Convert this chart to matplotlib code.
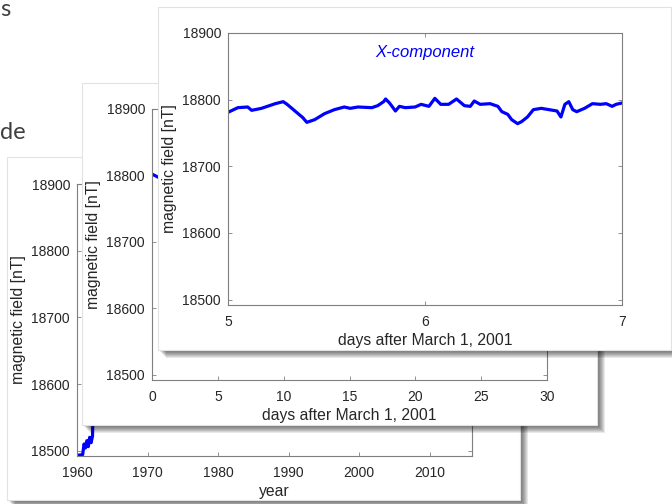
import matplotlib
matplotlib.use("Agg")
import matplotlib.pyplot as plt
from matplotlib.patches import Rectangle

plt.rcParams['font.family'] = ['Liberation Sans', 'DejaVu Sans']

W, H = 672, 504

# panel 1: yearly data (mostly hidden behind the other cards)
years = [1960.0, 1960.8, 1961.0, 1961.2, 1961.4, 1961.6, 1961.8, 1962.0, 1962.2, 1962.35,
         1965, 1970, 1975, 1980, 1985, 1990, 1995, 2000, 2005, 2010, 2015]
field_years = [18493, 18494, 18510, 18504, 18515, 18506, 18520, 18512, 18522, 18600,
               18610, 18650, 18700, 18740, 18760, 18775, 18785, 18795, 18810, 18825, 18840]

# panel 2: March 2001, days 0-30 (hidden except the first day)
days_month = list(range(31))
field_month = [18802, 18792, 18795, 18790, 18786, 18788, 18792, 18790, 18785, 18789,
               18793, 18780, 18787, 18791, 18794, 18790, 18786, 18789, 18792, 18788,
               18790, 18795, 18791, 18787, 18784, 18789, 18793, 18790, 18792, 18794, 18791]

# panel 3: days 5-7, X-component
days_zoom = [5.00, 5.05, 5.10, 5.12, 5.17, 5.24, 5.28, 5.30, 5.34, 5.38, 5.40, 5.44, 5.49,
             5.54, 5.59, 5.62, 5.66, 5.73, 5.76, 5.79, 5.80, 5.82, 5.84, 5.85, 5.87, 5.90,
             5.95, 5.98, 6.02, 6.05, 6.08, 6.12, 6.16, 6.20, 6.23, 6.25, 6.28, 6.33, 6.37,
             6.39, 6.42, 6.44, 6.47, 6.49, 6.52, 6.55, 6.59, 6.63, 6.67, 6.69, 6.71, 6.73,
             6.75, 6.77, 6.81, 6.85, 6.89, 6.92, 6.95, 6.97, 7.00]
field_zoom = [18781, 18788, 18789, 18784, 18787, 18794, 18797, 18793, 18783, 18773, 18766,
              18770, 18779, 18785, 18789, 18787, 18789, 18788, 18791, 18797, 18801, 18795,
              18787, 18783, 18790, 18788, 18789, 18793, 18790, 18802, 18793, 18793, 18801,
              18791, 18790, 18798, 18793, 18794, 18790, 18782, 18778, 18770, 18764, 18767,
              18774, 18785, 18787, 18785, 18783, 18774, 18793, 18797, 18785, 18782, 18787,
              18794, 18793, 18794, 18790, 18793, 18795]

yticks = [18500, 18600, 18700, 18800, 18900]
xticks_years = [1960, 1970, 1980, 1990, 2000, 2010]
xticks_month = [0, 5, 10, 15, 20, 25, 30]
xticks_zoom = [5, 6, 7]

fig = plt.figure(figsize=(W / 100, H / 100), dpi=100)


def box(x0, y0, x1, y1):
    return [x0 / W, 1 - y1 / H, (x1 - x0) / W, (y1 - y0) / H]


def card(x0, y0, x1, y1, z):
    # soft shadow down and to the right
    for k in range(1, 9):
        fig.add_artist(Rectangle(((x0 + k) / W, 1 - (y1 + k) / H), (x1 - x0) / W, (y1 - y0) / H,
                                 transform=fig.transFigure, facecolor='black', alpha=0.09,
                                 edgecolor='none', zorder=z - 0.5))
    fig.add_artist(Rectangle((x0 / W, 1 - y1 / H), (x1 - x0) / W, (y1 - y0) / H,
                             transform=fig.transFigure, facecolor='white',
                             edgecolor='#e2e2e2', lw=0.8, zorder=z))


def style(ax, z):
    ax.set_zorder(z)
    for s in ax.spines.values():
        s.set_color('#7f7f7f')
        s.set_linewidth(0.8)
    ax.tick_params(direction='in', length=3, width=0.6, color='#7f7f7f', labelsize=10,
                   labelcolor='#262626', top=True, right=True)
    ax.tick_params(axis='x', pad=7)
    ax.tick_params(axis='y', pad=5)
    ax.set_ylim(18492, 18900)
    ax.set_yticks(yticks)
    ax.set_yticklabels([str(t) for t in yticks])
    ax.set_ylabel('magnetic field [nT]', fontsize=11.3, color='#262626', labelpad=4)


# slide text behind the cards
fig.text(0.0, 1 - 16 / H, 's', fontsize=17, family='Lato', color='#404040', zorder=0.5)
fig.text(0.0, 1 - 139 / H, 'de', fontsize=17, family='Lato', color='#404040', zorder=0.5)

# card 1: years
card(7, 157, 520, 500, 1)
ax1 = fig.add_axes(box(77, 184, 472, 456))
style(ax1, 2)
ax1.plot(years, field_years, color='blue', lw=2.3)
ax1.set_xlim(1960, 2016)
ax1.set_xticks(xticks_years)
ax1.set_xlabel('year', fontsize=11.3, color='#262626', labelpad=3)

# card 2: one month
card(82, 83, 597, 425, 3)
ax2 = fig.add_axes(box(152, 109, 547, 380))
style(ax2, 4)
ax2.plot(days_month, field_month, color='blue', lw=2.3)
ax2.set_xlim(0, 30)
ax2.set_xticks(xticks_month)
ax2.set_xlabel('days after March 1, 2001', fontsize=11.3, color='#262626', labelpad=3)

# card 3: two days
card(158, 7, 671, 350, 5)
ax3 = fig.add_axes(box(228, 33, 622, 305))
style(ax3, 6)
ax3.plot(days_zoom, field_zoom, color='blue', lw=2.3)
ax3.set_xlim(5, 7)
ax3.set_xticks(xticks_zoom)
ax3.set_xlabel('days after March 1, 2001', fontsize=11.3, color='#262626', labelpad=3)
ax3.text(6.0, 18870, 'X-component', color='blue', fontstyle='italic', fontsize=12,
         ha='center', va='center')

fig.savefig('out.png', dpi=100)
